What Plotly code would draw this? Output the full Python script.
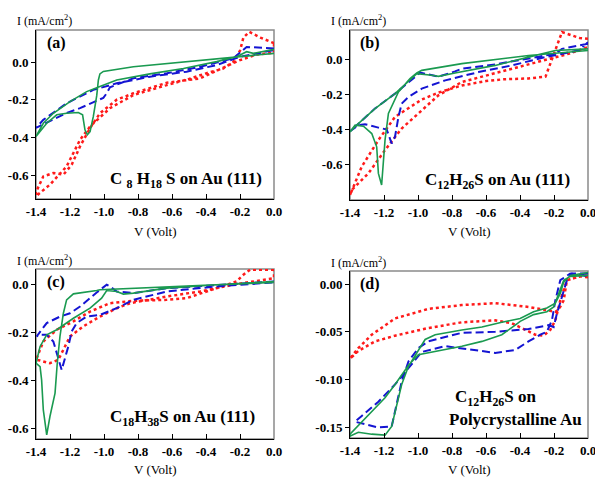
import plotly.graph_objects as go

W, H = 595, 478

# ---------------- data (V in Volt, I in mA/cm^2) ----------------
a_green_v = [0, -0.435, -0.827, -1.004, -1.024, -1.033, -1.043, -1.063, -1.082, -1.098,
             -1.112, -1.126, -1.151, -1.22, -1.278, -1.337, -1.4, -1.357, -1.298, -1.2,
             -1.102, -1.024, -0.925, -0.73, -0.533, -0.337, -0.22, -0.161, -0.122, 0]
a_green_i = [0.046, 0.01, -0.025, -0.05, -0.063, -0.095, -0.18, -0.29, -0.37, -0.386,
             -0.36, -0.28, -0.268, -0.272, -0.28, -0.325, -0.395, -0.325, -0.272, -0.21,
             -0.157, -0.13, -0.095, -0.063, -0.034, 0.002, 0.028, 0.055, 0.046, 0.067]
a_blue_v = [0, -0.161, -0.24, -0.435, -0.63, -0.827, -0.965, -0.984, -1.004, -1.141,
            -1.22, -1.4, -1.357, -1.22, -1.063, -0.925, -0.73, -0.514, -0.337, -0.2, 0]
a_blue_i = [0.072, 0.08, 0.02, -0.025, -0.06, -0.086, -0.134, -0.166, -0.19, -0.245,
            -0.27, -0.35, -0.307, -0.219, -0.148, -0.113, -0.078, -0.051, -0.016, 0.028, 0.063]
a_red_v = [0, -0.08, -0.145, -0.18, -0.2, -0.24, -0.3, -0.4, -0.5, -0.63,
           -0.827, -0.965, -1.082, -1.141, -1.22, -1.318, -1.4, -1.4, -1.357, -1.298,
           -1.239, -1.19, -1.141, -1.082, -1.024, -0.925, -0.827, -0.63, -0.435, -0.3,
           -0.2, -0.1, 0, 0]
a_red_i = [0.1, 0.13, 0.16, 0.13, 0.06, 0.0, -0.035, -0.06, -0.09, -0.122,
           -0.175, -0.245, -0.342, -0.413, -0.554, -0.651, -0.712, -0.69, -0.607, -0.589,
           -0.598, -0.545, -0.448, -0.351, -0.272, -0.2, -0.166, -0.11, -0.087, -0.03,
           0.01, 0.04, 0.05, 0.1]

b_green_v = [0, -0.35, -0.742, -0.978, -1.007, -1.047, -1.115, -1.174, -1.194, -1.204,
             -1.214, -1.233, -1.243, -1.272, -1.321, -1.37, -1.4, -1.351, -1.253, -1.135,
             -1.037, -1.007, -0.919, -0.88, -0.782, -0.546, -0.35, -0.192, 0]
b_green_i = [0.049, 0.02, -0.026, -0.064, -0.079, -0.111, -0.187, -0.309, -0.46, -0.611,
             -0.715, -0.649, -0.498, -0.423, -0.381, -0.375, -0.413, -0.366, -0.281, -0.196,
             -0.111, -0.083, -0.092, -0.098, -0.079, -0.036, 0.011, 0.049, 0.058]
b_blue_v = [0, -0.153, -0.192, -0.35, -0.546, -0.742, -0.782, -0.88, -0.92, -0.988,
            -1.037, -1.135, -1.253, -1.4, -1.351, -1.312, -1.233, -1.184, -1.155, -1.135,
            -1.115, -1.096, -1.056, -0.978, -0.84, -0.644, -0.448, -0.251, -0.055, 0]
b_blue_i = [0.087, 0.058, 0.03, 0.002, -0.03, -0.055, -0.07, -0.1, -0.09, -0.077,
            -0.117, -0.196, -0.281, -0.41, -0.375, -0.37, -0.389, -0.4, -0.479, -0.44,
            -0.328, -0.253, -0.215, -0.168, -0.121, -0.074, -0.036, 0.011, 0.049, 0.096]
b_red_v = [0, -0.05, -0.153, -0.19, -0.22, -0.25, -0.35, -0.5, -0.6, -0.742,
           -0.88, -0.978, -1.135, -1.233, -1.331, -1.4, -1.39, -1.292, -1.194, -1.096,
           -0.978, -0.88, -0.742, -0.546, -0.35, -0.2, -0.114, 0, 0]
b_red_i = [0.115, 0.12, 0.153, 0.06, -0.02, -0.1, -0.11, -0.115, -0.125, -0.15,
           -0.19, -0.23, -0.328, -0.46, -0.611, -0.772, -0.743, -0.649, -0.517, -0.394,
           -0.291, -0.206, -0.13, -0.08, -0.03, 0.01, 0.03, 0.068, 0.115]

c_green_v = [0, -0.337, -0.631, -0.827, -1.024, -1.043, -1.18, -1.22, -1.239, -1.259,
             -1.275, -1.288, -1.318, -1.337, -1.357, -1.367, -1.376, -1.4, -1.376, -1.337,
             -1.278, -1.18, -1.082, -1.014, -0.984, -0.925, -0.886, -0.827, -0.631, -0.337, 0]
c_green_i = [0.01, 0.0, -0.007, -0.014, -0.021, -0.024, -0.038, -0.063, -0.119, -0.216,
             -0.328, -0.453, -0.551, -0.628, -0.523, -0.398, -0.342, -0.328, -0.258, -0.209,
             -0.188, -0.14, -0.098, -0.056, -0.024, -0.028, -0.039, -0.035, -0.014, 0.0, 0.014]
c_blue_v = [0, -0.337, -0.631, -0.827, -0.925, -0.965, -0.984, -1.043, -1.082, -1.141,
            -1.2, -1.259, -1.337, -1.396, -1.376, -1.337, -1.298, -1.278, -1.249, -1.21,
            -1.19, -1.161, -1.102, -1.024, -0.925, -0.827, -0.631, -0.337, 0]
c_blue_i = [0.014, 0.0, -0.014, -0.035, -0.028, -0.007, 0.0, -0.032, -0.056, -0.091,
            -0.119, -0.133, -0.16, -0.216, -0.209, -0.209, -0.237, -0.286, -0.356, -0.258,
            -0.195, -0.16, -0.133, -0.126, -0.098, -0.063, -0.028, -0.007, 0.01]
c_red_v = [0, -0.141, -0.18, -0.22, -0.337, -0.514, -0.631, -0.827, -0.965, -1.082,
           -1.18, -1.278, -1.357, -1.396, -1.4, -1.376, -1.318, -1.269, -1.239, -1.2,
           -1.122, -1.024, -0.925, -0.847, -0.631, -0.435, -0.24, 0, 0]
c_red_i = [0.063, 0.063, 0.042, 0.014, -0.014, -0.056, -0.063, -0.067, -0.077, -0.112,
           -0.153, -0.188, -0.237, -0.3, -0.314, -0.317, -0.328, -0.314, -0.272, -0.216,
           -0.174, -0.133, -0.098, -0.077, -0.049, -0.028, 0.0, 0.028, 0.063]

d_green_v = [0, -0.104, -0.143, -0.163, -0.192, -0.242, -0.32, -0.399, -0.507, -0.624,
             -0.742, -0.899, -0.958, -0.998, -1.056, -1.096, -1.135, -1.155, -1.194, -1.272,
             -1.351, -1.4, -1.4, -1.331, -1.253, -1.194, -1.135, -1.056, -0.998, -0.939,
             -0.84, -0.742, -0.624, -0.507, -0.428, -0.399, -0.32, -0.242, -0.202, -0.173,
             -0.143, -0.104, 0]
d_green_i = [0.012, 0.009, 0.002, -0.01, -0.02, -0.025, -0.029, -0.036, -0.04, -0.045,
             -0.048, -0.053, -0.058, -0.069, -0.086, -0.105, -0.133, -0.149, -0.158, -0.157,
             -0.155, -0.159, -0.157, -0.144, -0.13, -0.119, -0.105, -0.085, -0.074, -0.072,
             -0.069, -0.065, -0.06, -0.053, -0.043, -0.039, -0.032, -0.029, -0.024, -0.01,
             0.004, 0.008, 0.009]
d_blue_v = [0, -0.094, -0.124, -0.153, -0.183, -0.202, -0.232, -0.35, -0.546, -0.742,
            -0.939, -0.998, -1.056, -1.096, -1.135, -1.155, -1.233, -1.312, -1.371, -1.331,
            -1.233, -1.135, -1.056, -0.978, -0.84, -0.683, -0.546, -0.428, -0.35, -0.281,
            -0.242, -0.212, -0.192, -0.163, -0.104, 0]
d_blue_i = [0.011, 0.011, 0.004, -0.013, -0.031, -0.045, -0.043, -0.047, -0.05, -0.051,
            -0.06, -0.067, -0.081, -0.102, -0.133, -0.149, -0.15, -0.147, -0.144, -0.138,
            -0.123, -0.105, -0.088, -0.071, -0.065, -0.069, -0.072, -0.069, -0.06, -0.053,
            -0.05, -0.038, -0.017, 0.004, 0.011, 0.008]
d_red_v = [0, -0.045, -0.124, -0.143, -0.173, -0.192, -0.35, -0.546, -0.742, -0.939,
           -1.135, -1.272, -1.351, -1.4, -1.351, -1.253, -1.135, -0.939, -0.742, -0.546,
           -0.448, -0.369, -0.31, -0.261, -0.222, -0.192, -0.163, -0.124, -0.045, 0]
d_red_i = [0.007, 0.008, 0.004, -0.017, -0.027, -0.029, -0.024, -0.02, -0.022, -0.026,
           -0.036, -0.053, -0.067, -0.078, -0.07, -0.06, -0.054, -0.046, -0.04, -0.038,
           -0.041, -0.048, -0.053, -0.054, -0.048, -0.038, -0.017, 0.004, 0.008, 0.009]

x_tickvals = [-1.4, -1.2, -1.0, -0.8, -0.6, -0.4, -0.2, 0.0]
x_ticktext = ["-1.4", "-1.2", "-1.0", "-0.8", "-0.6", "-0.4", "-0.2", "0.0"]
y_tickvals_abc = [0.0, -0.2, -0.4, -0.6]
y_ticktext_abc = ["0.0", "-0.2", "-0.4", "-0.6"]
y_tickvals_d = [0.0, -0.05, -0.10, -0.15]
y_ticktext_d = ["0.00", "-0.05", "-0.10", "-0.15"]

panel_labels = ["(a)", "(b)", "(c)", "(d)"]
x_title = "V (Volt)"
y_title = "I (mA/cm<sup>2</sup>)"

# ---------------- layout helpers ----------------
FONT = "Liberation Serif"
RED, BLUE, GREEN = "#ff1a1a", "#1414d2", "#1a9a50"

def px(x):
    return x / W

def py(y):
    return 1 - y / H

# panel boxes in pixels: (left, right, top, bottom)
boxes = [(36, 274, 30, 199), (350, 588, 30, 200), (36, 274, 269, 439), (350, 588, 271, 438)]
yranges = [[-0.727, 0.17], [-0.8, 0.165], [-0.645, 0.066], [-0.161, 0.0136]]

panels = [
    (a_red_v, a_red_i, a_blue_v, a_blue_i, a_green_v, a_green_i),
    (b_red_v, b_red_i, b_blue_v, b_blue_i, b_green_v, b_green_i),
    (c_red_v, c_red_i, c_blue_v, c_blue_i, c_green_v, c_green_i),
    (d_red_v, d_red_i, d_blue_v, d_blue_i, d_green_v, d_green_i),
]

fig = go.Figure()
layout = dict(
    width=W, height=H, margin=dict(l=0, r=0, t=0, b=0, pad=0, autoexpand=False),
    paper_bgcolor="white", plot_bgcolor="white", showlegend=False,
    font=dict(family=FONT, size=12, color="black"),
    annotations=[], shapes=[],
)

TICKFONT = dict(family=FONT, size=13, weight="bold")

for k, (box, yr, data) in enumerate(zip(boxes, yranges, panels)):
    n = "" if k == 0 else str(k + 1)
    xa, ya = "x" + n, "y" + n
    l, r, t, b = box
    rv, ri, bv, bi, gv, gi = data
    fig.add_trace(go.Scatter(x=rv, y=ri, mode="lines", xaxis=xa, yaxis=ya,
                             line=dict(color=RED, width=2.5, dash="3px,3px")))
    fig.add_trace(go.Scatter(x=bv, y=bi, mode="lines", xaxis=xa, yaxis=ya,
                             line=dict(color=BLUE, width=2, dash="8px,4px")))
    fig.add_trace(go.Scatter(x=gv, y=gi, mode="lines", xaxis=xa, yaxis=ya,
                             line=dict(color=GREEN, width=1.6)))
    if k == 3:
        ytv, ytt = y_tickvals_d, y_ticktext_d
    else:
        ytv, ytt = y_tickvals_abc, y_ticktext_abc
    layout["xaxis" + n] = dict(
        domain=[px(l), px(r)], range=[-1.4, 0], anchor=ya, automargin=False,
        tickvals=x_tickvals, ticktext=x_ticktext, ticks="inside", ticklen=5,
        tickcolor="black", showline=True, linecolor="black", linewidth=1,
        showgrid=False, zeroline=False, tickfont=TICKFONT, ticklabeloverflow="allow",
    )
    layout["yaxis" + n] = dict(
        domain=[py(b), py(t)], range=yr, anchor=xa, automargin=False,
        tickvals=ytv, ticktext=ytt, ticks="outside", ticklen=4,
        tickcolor="black", showline=True, linecolor="black", linewidth=1,
        showgrid=False, zeroline=False, tickfont=TICKFONT, ticklabeloverflow="allow",
    )
    layout["shapes"].append(dict(type="rect", xref=xa + " domain", yref=ya + " domain",
                                 x0=0, x1=1, y0=0, y1=1, layer="below",
                                 line=dict(color="#8a8a8a", width=1.5)))
    # axis titles
    layout["annotations"].append(dict(text=x_title, x=px((l + r) / 2), y=py(min(t + 202, 469)),
                                      xref="paper", yref="paper", showarrow=False,
                                      xanchor="center", yanchor="middle",
                                      font=dict(family=FONT, size=13)))
    layout["annotations"].append(dict(text=y_title, x=px(l - 21), y=py(t - 9),
                                      xref="paper", yref="paper", showarrow=False,
                                      xanchor="left", yanchor="middle",
                                      font=dict(family=FONT, size=12)))
    layout["annotations"].append(dict(text="<b>%s</b>" % panel_labels[k],
                                      x=px(l + 20), y=py(t + 13),
                                      xref="paper", yref="paper", showarrow=False,
                                      xanchor="center", yanchor="middle",
                                      font=dict(family=FONT, size=16)))

compound_texts = [
    ("<b>C <sub>8</sub> H<sub>18</sub> S on Au (111)</b>", 108, 180),
    ("<b>C<sub>12</sub>H<sub>26</sub>S on Au (111)</b>", 423, 181),
    ("<b>C<sub>18</sub>H<sub>38</sub>S on Au (111)</b>", 108, 418),
    ("<b>C<sub>12</sub>H<sub>26</sub>S on</b>", 453, 398),
    ("<b>Polycrystalline Au</b>", 447, 419),
]
for txt, x, y in compound_texts:
    layout["annotations"].append(dict(text=txt, x=px(x), y=py(y), xref="paper", yref="paper",
                                      showarrow=False, xanchor="left", yanchor="middle",
                                      font=dict(family=FONT, size=17)))

fig.update_layout(**layout)
fig.write_html("out.html", config={"displayModeBar": False},
               post_script="document.body.style.margin='0';document.body.style.padding='0';")
